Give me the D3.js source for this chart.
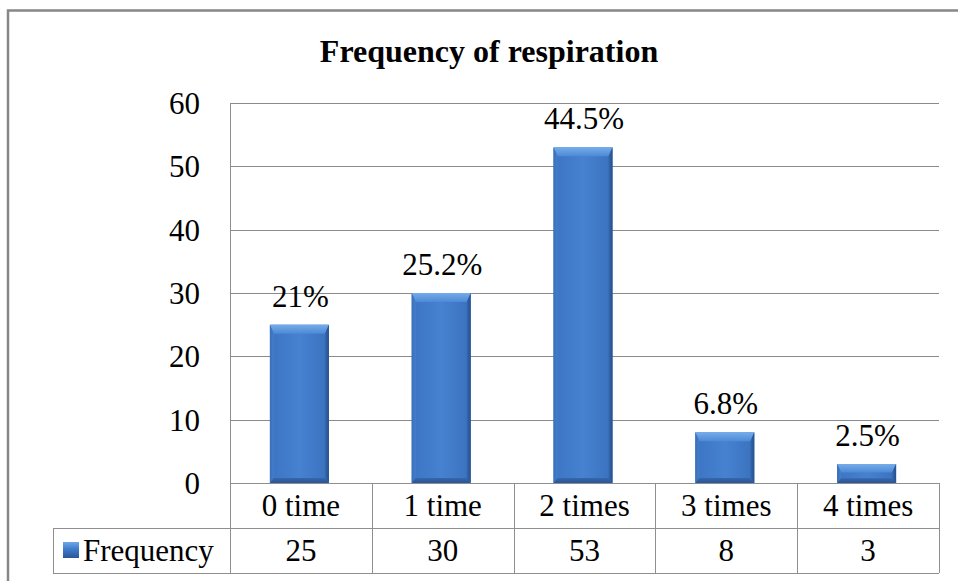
<!DOCTYPE html>
<html>
<head>
<meta charset="utf-8">
<script src="https://cdn.jsdelivr.net/npm/d3@7/dist/d3.min.js"></script>
<style>
  html, body { margin: 0; padding: 0; background: #fff; }
  svg { display: block; }
</style>
</head>
<body>
<svg id="chart" width="958" height="581"></svg>
<script>
// Frequency of respiration: counts per category with share labels
const categories = ["0 time", "1 time", "2 times", "3 times", "4 times"];
const frequency = [25, 30, 53, 8, 3];
const shareLabels = ["21%", "25.2%", "44.5%", "6.8%", "2.5%"];
const yTicks = [0, 10, 20, 30, 40, 50, 60];
const seriesName = "Frequency";
const chartTitle = "Frequency of respiration";

const FONT = '"Liberation Serif", "Times New Roman", Times, serif';
const FS = 31; // label font size
const svg = d3.select("#chart").style("font-family", FONT);

const plot = { left: 230, right: 939, top: 103, bottom: 483 };
const rowH = 45;        // height of each data-table row
const legendLeft = 53;  // left edge of the series-name cell
const r0 = plot.bottom, r1 = plot.bottom + rowH, r2 = plot.bottom + 2 * rowH;

const x = d3.scaleBand().domain(categories).range([plot.left, plot.right]).paddingInner(0).paddingOuter(0);
const y = d3.scaleLinear().domain([0, 60]).range([plot.bottom, plot.top]);

function label(sel, size) {
  return sel.attr("font-family", FONT).style("font-family", FONT)
    .style("font-size", size + "px").attr("fill", "#000");
}
function textGroup(anchor) {
  return svg.append("g").attr("fill", "none").attr("font-size", 10)
    .attr("font-family", FONT).attr("text-anchor", anchor);
}

const defs = svg.append("defs");
function linGrad(id, x2, y2, stops) {
  const g = defs.append("linearGradient").attr("id", id)
    .attr("x1", 0).attr("y1", 0).attr("x2", x2).attr("y2", y2);
  stops.forEach(s => g.append("stop").attr("offset", s[0]).attr("stop-color", s[1]));
}
linGrad("face", 1, 0, [[0, "#3b74c2"], [0.5, "#4682d0"], [1, "#3a71be"]]);
linGrad("topBevel", 0, 1, [[0, "#75acea"], [1, "#4d89d6"]]);
linGrad("leftBevel", 1, 0, [[0, "#3a6fb8"], [1, "#447ecb"]]);
linGrad("rightBevel", 1, 0, [[0, "#3569b0"], [1, "#24508f"]]);
linGrad("bottomBevel", 0, 1, [[0, "#3567ad"], [1, "#2a5595"]]);
linGrad("keyGrad", 0, 1, [[0, "#6ea6e6"], [0.45, "#3f7bcb"], [1, "#2a5696"]]);

// outer chart frame (runs off the right and bottom edges)
svg.append("rect")
  .attr("x", 8).attr("y", 10.5).attr("width", 1000).attr("height", 1000)
  .attr("fill", "none").attr("stroke", "#878787").attr("stroke-width", 2.5);

// title
label(svg.append("text"), 32)
  .attr("x", 489).attr("y", 62)
  .attr("text-anchor", "middle")
  .style("font-weight", "bold")
  .text(chartTitle);

// gridlines
svg.append("g").selectAll("line").data(yTicks.filter(t => t > 0)).join("line")
  .attr("x1", plot.left).attr("x2", plot.right)
  .attr("y1", d => Math.round(y(d)) + 0.5).attr("y2", d => Math.round(y(d)) + 0.5)
  .attr("stroke", "#8a8a8a").attr("stroke-width", 1);

// y axis labels
const gy = svg.append("g").attr("transform", `translate(${plot.left},0)`)
  .call(d3.axisLeft(y).tickValues(yTicks).tickSize(0).tickPadding(30));
gy.attr("font-family", FONT);
gy.select(".domain").remove();
label(gy.selectAll("text"), FS).attr("dy", "0.34em");

// bars with bevelled edges
const bevT = 9, bevS = 4, bevB = 5;
const barW = 59;
const barCx = c => x(c) + x.bandwidth() / 2 - 1.5;
svg.append("g").selectAll("g")
  .data(categories.map((c, i) => ({ c, v: frequency[i] })))
  .join("g")
  .each(function (d) {
    const g = d3.select(this);
    const cx = barCx(d.c);
    const x0 = cx - barW / 2, x1 = cx + barW / 2;
    const y0 = y(d.v), y1 = y(0);
    const t = Math.min(bevT, (y1 - y0) * 0.45);
    const b = Math.min(bevB, (y1 - y0) * 0.25);
    g.append("rect").attr("x", x0).attr("y", y0).attr("width", barW).attr("height", y1 - y0).attr("fill", "url(#face)");
    g.append("polygon").attr("points", [[x0, y0], [x1, y0], [x1 - bevS, y0 + t], [x0 + bevS, y0 + t]].join(" ")).attr("fill", "url(#topBevel)");
    g.append("polygon").attr("points", [[x0, y0], [x0 + bevS, y0 + t], [x0 + bevS, y1 - b], [x0, y1]].join(" ")).attr("fill", "url(#leftBevel)");
    g.append("polygon").attr("points", [[x1, y0], [x1 - bevS, y0 + t], [x1 - bevS, y1 - b], [x1, y1]].join(" ")).attr("fill", "url(#rightBevel)");
    g.append("polygon").attr("points", [[x0, y1], [x0 + bevS, y1 - b], [x1 - bevS, y1 - b], [x1, y1]].join(" ")).attr("fill", "url(#bottomBevel)");
  });

// share labels above the bars
label(textGroup("middle").selectAll("text").data(shareLabels).join("text"), FS)
  .attr("x", (d, i) => barCx(categories[i]) + 1)
  .attr("y", (d, i) => y(frequency[i]) - 18)
  .text(d => d);

// data table: category row and value row drawn as band axes
const gCat = svg.append("g").attr("transform", `translate(0,${r0})`)
  .call(d3.axisBottom(x).tickSize(0));
gCat.attr("font-family", FONT);
gCat.select(".domain").remove();
label(gCat.selectAll("text"), FS).attr("y", rowH / 2).attr("dy", "0.34em");

const gVal = svg.append("g").attr("transform", `translate(0,${r1})`)
  .call(d3.axisBottom(x).tickSize(0).tickFormat((d, i) => frequency[i]));
gVal.attr("font-family", FONT);
gVal.select(".domain").remove();
label(gVal.selectAll("text"), FS).attr("y", rowH / 2).attr("dy", "0.34em");

// table grid
const tbl = svg.append("g").attr("stroke", "#8f8f8f").attr("stroke-width", 1);
tbl.append("line").attr("x1", plot.left).attr("x2", plot.right).attr("y1", r0 + 0.5).attr("y2", r0 + 0.5);
tbl.append("line").attr("x1", legendLeft).attr("x2", plot.right).attr("y1", r1 + 0.5).attr("y2", r1 + 0.5);
tbl.append("line").attr("x1", legendLeft).attr("x2", plot.right).attr("y1", r2 + 0.5).attr("y2", r2 + 0.5);
tbl.append("line").attr("x1", legendLeft + 0.5).attr("x2", legendLeft + 0.5).attr("y1", r1).attr("y2", r2);
tbl.append("line").attr("x1", plot.left + 0.5).attr("x2", plot.left + 0.5).attr("y1", plot.top).attr("y2", r2);
categories.forEach(c => {
  const xr = Math.round(x(c) + x.bandwidth()) + 0.5;
  tbl.append("line").attr("x1", xr).attr("x2", xr).attr("y1", r0).attr("y2", r2);
});

// legend key and series name
svg.append("rect").attr("x", 63).attr("y", r1 + 14).attr("width", 16).attr("height", 16)
  .attr("fill", "url(#keyGrad)");
label(textGroup("start").append("text"), FS)
  .attr("x", 83).attr("y", r1 + rowH / 2).attr("dy", "0.34em")
  .text(seriesName);
</script>
</body>
</html>
